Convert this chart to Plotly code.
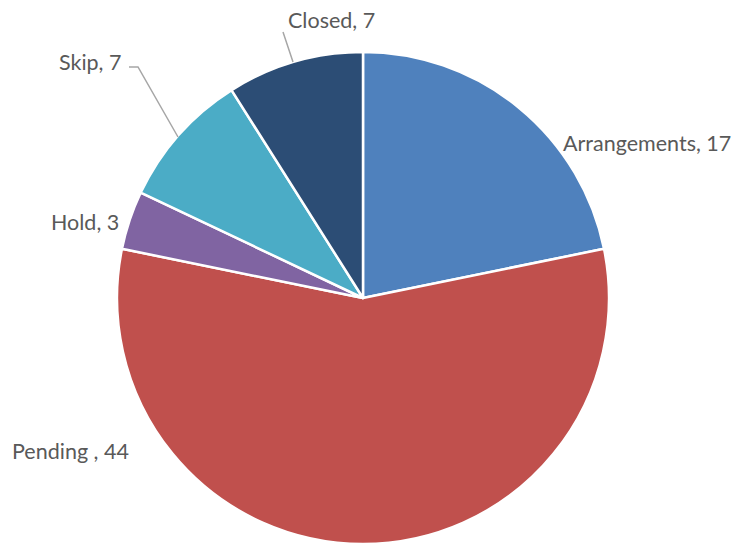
import plotly.graph_objects as go

# Ticket status breakdown
labels = ["Arrangements", "Pending ", "Hold", "Skip", "Closed"]
values = [17, 44, 3, 7, 7]
colors = ["#4F81BD", "#C0504D", "#8064A2", "#4BACC6", "#2C4D75"]

W, H = 740, 544

fig = go.Figure(go.Pie(
    labels=labels,
    values=values,
    sort=False,
    direction="clockwise",
    rotation=0,
    marker=dict(colors=colors, line=dict(color="white", width=2.5)),
    textinfo="none",
    hoverinfo="label+value",
    domain=dict(x=[117 / W, 609 / W], y=[0, 1 - 52 / H]),
    showlegend=False,
))

# Outside data labels: (x, y, anchor) in pixels
label_pos = {
    "Arrangements": (561, 143, "left"),
    "Pending ": (131, 451, "right"),
    "Hold": (121, 222, "right"),
    "Skip": (123, 62, "right"),
    "Closed": (331, 20, "center"),
}
for lab, val in zip(labels, values):
    px, py, anchor = label_pos[lab]
    fig.add_annotation(
        x=px / W, y=1 - py / H, xref="paper", yref="paper",
        text=f"{lab}, {val}", showarrow=False,
        xanchor=anchor, yanchor="middle",
        font=dict(family="Lato, Open Sans, sans-serif", size=21.5, color="#595959"),
    )

# Leader lines for the small slices
def pline(pts):
    path = "M " + " L ".join(f"{x / W},{1 - y / H}" for x, y in pts)
    fig.add_shape(type="path", path=path, xref="paper", yref="paper",
                  line=dict(color="#A6A6A6", width=1.5))

pline([(129, 67), (138, 67), (178, 137)])
pline([(283, 32), (293, 62)])

fig.update_layout(
    width=W, height=H,
    margin=dict(l=0, r=0, t=0, b=0),
    paper_bgcolor="white",
    plot_bgcolor="white",
)

fig.write_html("out.html")
